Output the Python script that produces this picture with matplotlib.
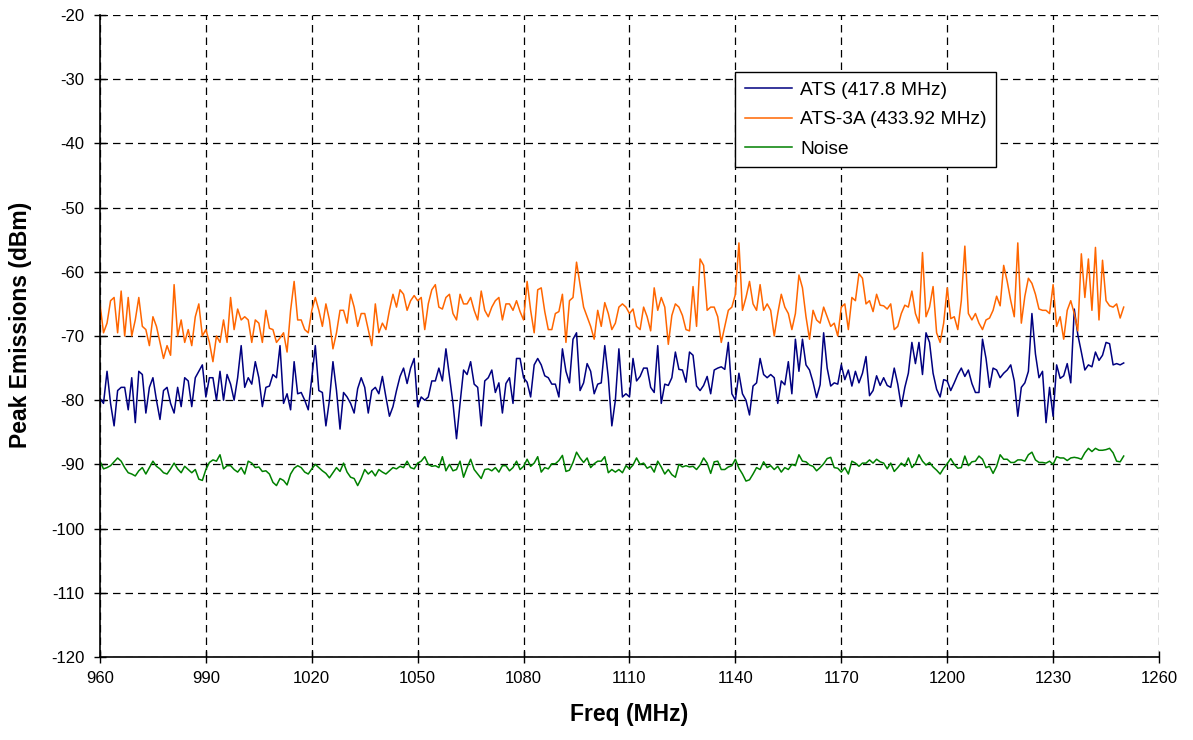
import numpy as np
import matplotlib
matplotlib.use("Agg")
from matplotlib import pyplot as plt

plt.rcParams["font.family"] = ["Liberation Sans", "DejaVu Sans"]
plt.rcParams["axes.unicode_minus"] = False

# sweep frequencies, 1 MHz steps
freq = np.arange(960, 1251)

# ATS (417.8 MHz) peak emissions, dBm
ats = [
    -79.7, -80.5, -75.5, -80.5, -84, -78.5, -78, -78, -81.5, -76.5,  # 960
    -83.5, -75.5, -76, -82, -78, -76.5, -80, -83, -78.5, -78,  # 970
    -80.5, -82, -78, -81, -76.5, -77, -81, -76.5, -75.5, -74.5,  # 980
    -79.5, -76.5, -76.5, -80, -75.5, -80, -76, -77.5, -80, -76.5,  # 990
    -71.5, -78, -76.5, -77.5, -74, -76.5, -81, -78, -77.8, -76,  # 1000
    -76.5, -71.5, -80.5, -79, -81.5, -74, -79, -78.8, -80, -81.5,  # 1010
    -76.5, -71.5, -78.5, -78.8, -84, -80, -74, -78.5, -84.5, -78.8,  # 1020
    -79.5, -80.5, -82, -78.2, -76.5, -78, -82, -78.5, -78, -79,  # 1030
    -76.3, -79.5, -82.5, -81, -78.5, -76.3, -75, -77.4, -75, -73.5,  # 1040
    -81, -79.5, -80, -79.5, -77, -77, -75, -77, -72, -76.3,  # 1050
    -80.5, -86, -80.5, -75.3, -76, -74, -77.5, -78, -84, -77,  # 1060
    -76.5, -75.3, -78.8, -77.3, -82, -77.4, -76.5, -80.5, -73.5, -73.5,  # 1070
    -76.5, -77.2, -79.5, -74.5, -73.5, -74.5, -76.2, -76.5, -77.5, -77.5,  # 1080
    -79.5, -72, -75.5, -77.3, -70.5, -69.5, -78.5, -77.3, -74.3, -75.5,  # 1090
    -79, -77.5, -77.3, -71.5, -76.5, -84, -80, -72, -79.5, -79,  # 1100
    -79.5, -73.5, -77, -76.3, -75, -75, -78, -78.8, -71.5, -80.5,  # 1110
    -77.5, -77.7, -76.5, -72.5, -75.2, -75.3, -77.2, -72.5, -73, -77.8,  # 1120
    -78.5, -77.7, -76.3, -79, -75.3, -75, -74.8, -75.2, -71, -79,  # 1130
    -80, -75.8, -79, -80, -82.3, -77.8, -77.3, -73.5, -76, -76.5,  # 1140
    -76, -76.5, -80.5, -77, -77.6, -74, -79, -70.5, -75.5, -70.5,  # 1150
    -74.5, -75.3, -77.2, -79.6, -77.6, -69.5, -75, -77.8, -77.3, -77.5,  # 1160
    -74.5, -76.8, -75.3, -77.8, -75.5, -77.3, -75.8, -73.2, -79.3, -78.5,  # 1170
    -76.2, -77.7, -76.5, -77.7, -78, -75, -77.5, -81, -78, -75.8,  # 1180
    -71, -74.3, -71, -76, -69.5, -71, -75.8, -78.3, -79.5, -76.8,  # 1190
    -77, -78.5, -77.3, -76, -75, -76.3, -75.3, -77.4, -78.8, -78.8,  # 1200
    -70.5, -73.5, -78, -75, -75.3, -76.5, -75.8, -75.3, -74.5, -77,  # 1210
    -82.5, -78, -77.3, -75.5, -66.5, -72.8, -76.5, -75.5, -83.5, -78,  # 1220
    -82.5, -74.5, -76.6, -76.2, -74.3, -77.3, -65.8, -69.8, -72.5, -75.3,  # 1230
    -74.5, -74.8, -72.5, -73.8, -73, -71, -71.2, -74.5, -74.3, -74.5,  # 1240
    -74.2,  # 1250
]

# ATS-3A (433.92 MHz) peak emissions, dBm
ats3a = [
    -65, -69.5, -68, -64.5, -64, -69.5, -63, -70, -64, -70,  # 960
    -67.5, -64, -68.5, -69, -71.5, -67, -68.5, -71, -73.5, -71.5,  # 970
    -73, -62, -70, -67.5, -71, -69, -71.5, -67, -65, -70,  # 980
    -69, -71, -74, -70, -71, -67.5, -71, -64, -69, -65.8,  # 990
    -67.5, -67, -67.5, -71, -67.5, -68, -71, -66, -68.8, -69,  # 1000
    -71, -70.3, -69.5, -72.5, -66, -61.5, -67.5, -67.5, -69, -69.5,  # 1010
    -66, -64, -66, -68.5, -65, -67.5, -72, -69.5, -66, -66,  # 1020
    -68, -63.5, -65.5, -68.5, -66.5, -66.5, -69, -71.5, -65, -69.5,  # 1030
    -68, -69, -66, -63.5, -65.5, -62.8, -63.5, -66, -64.5, -63.7,  # 1040
    -64.5, -64, -69, -65, -62.8, -62, -65.5, -65.8, -64, -63.5,  # 1050
    -66.5, -67.5, -63.5, -65, -65, -64, -66, -67.5, -63, -66,  # 1060
    -67, -65.5, -64.5, -64, -67.5, -65, -65, -66, -64.5, -66.2,  # 1070
    -67.5, -61.5, -66, -69.5, -62.8, -62.5, -66.2, -69, -69, -66.5,  # 1080
    -66.2, -63.5, -71, -64.5, -64, -58.5, -62, -65.5, -67, -68.5,  # 1090
    -70.5, -66, -68.5, -64.8, -66.5, -69, -68, -65.5, -65, -65.5,  # 1100
    -66.5, -65.8, -68.5, -69, -65.5, -67, -69.2, -62.5, -66, -64,  # 1110
    -65.5, -71.3, -66.8, -65, -65.5, -66.8, -69, -69.2, -62.3, -68.5,  # 1120
    -58, -59, -66, -65.5, -65.5, -67, -71, -68.5, -66, -65.5,  # 1130
    -63.5, -55.5, -66, -64, -61.5, -65, -66, -62, -66, -65,  # 1140
    -66, -70, -66.5, -63.5, -65.5, -66.5, -69, -66.5, -60.5, -62.5,  # 1150
    -67, -70.5, -66, -67.5, -68, -65.5, -67, -68.5, -68, -70,  # 1160
    -65.5, -65, -69, -64, -64.5, -60.3, -61, -65, -64.5, -66.2,  # 1170
    -63.5, -65.2, -65.3, -65.8, -65, -69, -68.5, -66.5, -65.2, -65.5,  # 1180
    -63, -66.5, -68, -57, -67, -65.5, -62.3, -69.5, -71, -68,  # 1190
    -62.5, -67.3, -67, -69, -64.5, -56, -66.5, -67.5, -66.5, -68,  # 1200
    -69, -67.5, -67.2, -66, -63.8, -65.3, -59, -61.5, -64.5, -67,  # 1210
    -55.5, -68, -63.8, -61, -61.8, -63.5, -65.8, -66, -66, -66.5,  # 1220
    -62, -68.5, -67, -70.5, -66, -64.5, -66.5, -69.2, -57.2, -64,  # 1230
    -58, -66, -56.2, -67.5, -58.2, -64.5, -65.3, -65.5, -65, -67.2,  # 1240
    -65.5,  # 1250
]

# noise floor, dBm
noise = [
    -89.5, -90.7, -90.5, -90.2, -89.6, -89, -89.5, -90.5, -91.3, -91.5,  # 960
    -91.8, -91, -90.5, -91.5, -90.5, -89.5, -90.3, -90.7, -91.3, -91.5,  # 970
    -90.7, -89.8, -90.7, -91.3, -90.3, -90.8, -91.3, -90.8, -92.3, -92.5,  # 980
    -90.8, -89.7, -89.3, -89.5, -88.5, -90.7, -90.2, -90.2, -90.8, -91.2,  # 990
    -90.5, -91.5, -89.5, -89.8, -90.5, -90.4, -91.1, -91, -91.5, -92.8,  # 1000
    -93.3, -92.2, -92.5, -93.2, -91.5, -90.6, -90.2, -90.5, -91.2, -91.5,  # 1010
    -90.7, -90, -90.5, -91, -91.4, -92.1, -91.3, -90.5, -91.1, -89.8,  # 1020
    -91.2, -92, -92.2, -93.3, -92.2, -90.8, -91.5, -91, -91.8, -90.8,  # 1030
    -91.2, -91.5, -91, -90.5, -90.7, -90.3, -90.5, -89.5, -90.5, -90.7,  # 1040
    -89.8, -89.5, -88.8, -90, -90.3, -90.2, -90.5, -88.8, -91, -90,  # 1050
    -91, -90.8, -89.5, -92, -90.5, -89.2, -90.8, -91.5, -92.2, -90.8,  # 1060
    -90.7, -91, -90.5, -91.2, -90.2, -90.2, -91, -90.5, -89.5, -90.8,  # 1070
    -90.3, -89.2, -90.3, -89.8, -88.8, -91.2, -90.5, -90.7, -89.9, -89.9,  # 1080
    -89.4, -88.6, -91.1, -90.9, -89.7, -88.1, -89, -89.7, -89, -90.5,  # 1090
    -89.9, -89.5, -89.5, -88.8, -91.3, -90.8, -91.2, -90.8, -91.3, -90.2,  # 1100
    -90.7, -90.1, -89, -90, -89.8, -90.6, -90.3, -91.2, -89.5, -90.4,  # 1110
    -91.5, -90.8, -91.6, -92, -90, -90.4, -90.2, -90.4, -90.3, -90.8,  # 1120
    -90.1, -89, -89.8, -91.4, -89.6, -89.5, -90.8, -90.8, -90.4, -90.2,  # 1130
    -89.2, -90.6, -91.5, -92.6, -92.4, -91.5, -90.5, -90.8, -89.6, -90.5,  # 1140
    -90.2, -90.8, -90.3, -91.2, -90.5, -90.8, -90, -90.2, -88.5, -89.5,  # 1150
    -89.6, -90.1, -90.3, -91, -90.5, -89.9, -89.1, -88.9, -90.5, -90.6,  # 1160
    -91.2, -90.5, -91.5, -89.5, -89.8, -90.3, -89.8, -89.8, -89.3, -89.8,  # 1170
    -89.2, -89.6, -89.8, -90.7, -89.8, -91.1, -90.5, -89.8, -90.3, -89,  # 1180
    -90.5, -89.9, -88.5, -89.5, -90.1, -89.7, -90.4, -90.9, -91.5, -90.6,  # 1190
    -89.9, -89.1, -90, -90.6, -90.5, -88.7, -90.2, -89.6, -89.5, -88.7,  # 1200
    -89.2, -90.5, -90.3, -91.4, -90.3, -88.5, -89.2, -89.2, -89.7, -89.7,  # 1210
    -89.3, -89.3, -89.5, -88.5, -88.1, -89.3, -89.7, -89.7, -89.8, -89.5,  # 1220
    -90, -88.8, -89, -89, -89.4, -89, -88.9, -89, -89.2, -88.2,  # 1230
    -87.5, -88, -87.5, -87.8, -87.8, -87.7, -87.5, -88.2, -89.5, -89.6,  # 1240
    -88.7,  # 1250
]

labels = ["ATS (417.8 MHz)", "ATS-3A (433.92 MHz)", "Noise"]
colors = ["#000080", "#FF6600", "#008000"]

fig = plt.figure(figsize=(11.93, 7.40), dpi=100)
ax = fig.add_axes([0.0838, 0.1122, 0.8877, 0.8675])

for values, label, color in zip([ats, ats3a, noise], labels, colors):
    ax.plot(freq, values, color=color, linewidth=1.1, label=label)

ax.set_xlim(960, 1260)
ax.set_ylim(-120, -20)
ax.set_xticks(np.arange(960, 1261, 30))
ax.set_yticks(np.arange(-120, -19, 10))
ax.tick_params(direction="inout", length=8, width=1, labelsize=12, colors="black")
ax.tick_params(axis="x", pad=6)
ax.tick_params(axis="y", pad=7)

# dashed grid, also on the top and right edges (no frame there)
ax.grid(True, color="black", linestyle=(0, (6, 4)), linewidth=0.9)
ax.set_axisbelow(True)
ax.spines["top"].set_visible(False)
ax.spines["right"].set_visible(False)
ax.spines["left"].set_linewidth(1.2)
ax.spines["bottom"].set_linewidth(1.2)

ax.set_xlabel("Freq (MHz)", fontsize=16.5, fontweight="bold", labelpad=12)
ax.set_ylabel("Peak Emissions (dBm)", fontsize=16.5, fontweight="bold")
ax.yaxis.set_label_coords(-0.064, 0.518)

leg = ax.legend(loc="upper left", bbox_to_anchor=(0.5996, 0.911), fontsize=13.8,
                frameon=True, fancybox=False, edgecolor="black", framealpha=1,
                handlelength=2.5, borderpad=0.5, labelspacing=0.62, handletextpad=0.4,
                borderaxespad=0)
leg.get_frame().set_linewidth(1.0)

fig.savefig("out.png", dpi=100)
